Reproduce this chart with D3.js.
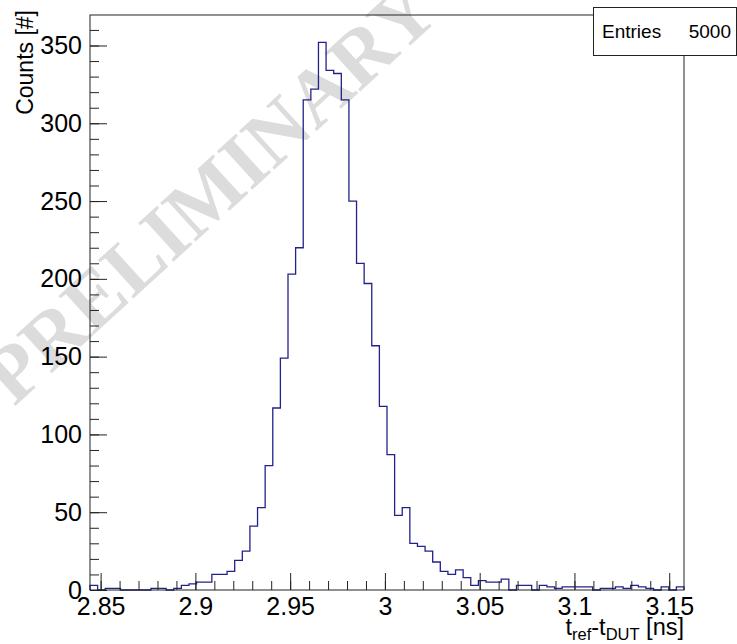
<!DOCTYPE html>
<html>
<head>
<meta charset="utf-8">
<script src="https://cdn.jsdelivr.net/npm/d3@7"></script>
<style>
  body { margin: 0; background: #fff; }
  svg { display: block; }
  text { font-family: "Liberation Sans", Arial, sans-serif; }
</style>
</head>
<body>
<svg width="737" height="644"></svg>
<script>
// histogram t_ref - t_DUT, 78 bins
var xMin = 2.8444, xMax = 3.1578;
var binCounts = [
  3, 0, 1, 1, 0, 0, 0, 0, 1, 1,
  0, 1, 3, 4, 5, 5, 10, 10, 12, 19,
  25, 41, 53, 80, 117, 149, 203, 220, 315, 322,
  352, 334, 332, 315, 250, 210, 197, 157, 118, 87,
  48, 53, 30, 28, 25, 18, 12, 10, 13, 8,
  3, 6, 5, 5, 7, 0, 3, 3, 0, 3,
  2, 1, 2, 2, 2, 2, 0, 1, 1, 2,
  1, 3, 2, 1, 0, 2, 0, 2
];
var entries = 5000;
var yMax = 369.6;
var xTickValues = [2.85, 2.9, 2.95, 3, 3.05, 3.1, 3.15];
var xMinorValues = d3.range(2.85, 3.155, 0.01);
var yTickValues = [0, 50, 100, 150, 200, 250, 300, 350];
var yMinorValues = d3.range(0, 361, 10);

var svg = d3.select("svg"),
    margin = {left: 90, top: 15, right: 53, bottom: 54},
    width = 737 - margin.left - margin.right,
    height = 644 - margin.top - margin.bottom;

var x = d3.scaleLinear().domain([xMin, xMax]).range([margin.left, margin.left + width]);
var y = d3.scaleLinear().domain([0, yMax]).range([margin.top + height, margin.top]);

// watermark
svg.append("text")
    .attr("transform", "translate(228,212) rotate(-42.4)")
    .attr("text-anchor", "middle")
    .style("font-family", "'Liberation Serif', 'Times New Roman', serif")
    .style("font-weight", "bold")
    .style("font-size", "80px")
    .style("fill", "#dcdcdc")
    .text("PRELIMINARY");

// histogram outline
var nb = binCounts.length,
    bw = (xMax - xMin) / nb;
var pts = [[xMin, 0]];
binCounts.forEach(function(c, i) { pts.push([xMin + i * bw, c]); });
pts.push([xMax, binCounts[nb - 1]]);
pts.push([xMax, 0]);

var line = d3.line()
    .x(function(d) { return x(d[0]); })
    .y(function(d) { return y(d[1]); })
    .curve(d3.curveStepAfter);

svg.append("path")
    .attr("d", line(pts))
    .attr("fill", "none")
    .attr("stroke", "#22228a")
    .attr("stroke-width", 1.3);

// axes
var xMinorAxis = d3.axisBottom(x).tickValues(xMinorValues).tickSize(-9).tickFormat("");
var xAxis = d3.axisBottom(x).tickValues(xTickValues).tickSize(-17).tickPadding(7)
    .tickFormat(function(d) { return d3.format("")(+d.toFixed(2)); });
var yMinorAxis = d3.axisLeft(y).tickValues(yMinorValues).tickSize(-9).tickFormat("");
var yAxis = d3.axisLeft(y).tickValues(yTickValues).tickSize(-17).tickPadding(8);

function styleAxis(g) {
  g.select(".domain").remove();
  g.selectAll("line").attr("stroke", "#222");
  g.selectAll("text").style("font-size", "25px").attr("fill", "#000");
}

svg.append("g").attr("transform", "translate(0," + (margin.top + height) + ")").call(xMinorAxis).call(styleAxis);
svg.append("g").attr("transform", "translate(0," + (margin.top + height) + ")").call(xAxis).call(styleAxis);
svg.append("g").attr("transform", "translate(" + margin.left + ",0)").call(yMinorAxis).call(styleAxis);
svg.append("g").attr("transform", "translate(" + margin.left + ",0)").call(yAxis).call(styleAxis);

// frame
svg.append("rect")
    .attr("x", margin.left).attr("y", margin.top)
    .attr("width", width).attr("height", height)
    .attr("fill", "none").attr("stroke", "#222").attr("stroke-width", 1);

// axis titles
svg.append("text")
    .attr("transform", "translate(33,10) rotate(-90)")
    .attr("text-anchor", "end")
    .style("font-size", "23px")
    .text("Counts [#]");

var xt = svg.append("text")
    .attr("x", margin.left + width)
    .attr("y", 635)
    .attr("text-anchor", "end")
    .style("font-size", "23.5px");
xt.append("tspan").text("t");
xt.append("tspan").attr("dy", 5).style("font-size", "16.5px").text("ref");
xt.append("tspan").attr("dy", -5).text("-t");
xt.append("tspan").attr("dy", 5).style("font-size", "16.5px").text("DUT");
xt.append("tspan").attr("dy", -5).text(" [ns]");

// stats box
var stats = svg.append("g");
stats.append("rect")
    .attr("x", 593.5).attr("y", 7.5)
    .attr("width", 143).attr("height", 48)
    .attr("fill", "#fff").attr("stroke", "#222");
stats.append("text")
    .attr("x", 602).attr("y", 38)
    .style("font-size", "19px")
    .text("Entries");
stats.append("text")
    .attr("x", 731).attr("y", 38)
    .attr("text-anchor", "end")
    .style("font-size", "19px")
    .text(entries);
</script>
</body>
</html>
